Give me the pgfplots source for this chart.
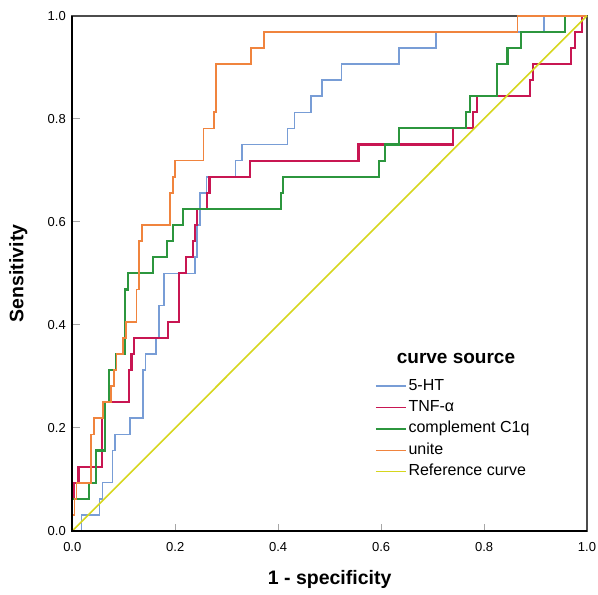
\documentclass[border=0pt]{standalone}
\usepackage{fontspec}
\setmainfont{Liberation Sans}
\usepackage{pgfplots}
\pgfplotsset{compat=1.18}

\definecolor{cblue}{RGB}{120,157,214}
\definecolor{cred}{RGB}{200,22,82}
\definecolor{cgreen}{RGB}{44,150,62}
\definecolor{corange}{RGB}{240,132,62}
\definecolor{cyellow}{RGB}{214,214,30}

\begin{document}
\begin{tikzpicture}
\path[use as bounding box] (-72.3pt,-64pt) rectangle (525.7pt,531pt);
\begin{axis}[
    at={(0,0)}, anchor=south west,
    width=514.7pt, height=515.3pt, scale only axis,
    xmin=0, xmax=1, ymin=0, ymax=1,
    clip=false,
    xtick={0,0.2,0.4,0.6,0.8,1},
    ytick={0,0.2,0.4,0.6,0.8,1},
    tick pos=left,
    tick align=inside,
    major tick length=7.5pt,
    every tick/.style={black!35, line width=1pt},
    axis line style={black!70, line width=2pt},
    ticklabel style={font=\fontsize{13}{15}\selectfont},
    xticklabel style={yshift=-8pt},
    yticklabel style={xshift=-3pt},
    /pgf/number format/fixed,
    /pgf/number format/fixed zerofill,
    /pgf/number format/precision=1,
    /pgf/number format/assume math mode=true,
    xlabel={1 - specificity},
    ylabel={Sensitivity},
    xlabel style={font=\fontsize{19.5}{22}\selectfont\bfseries,
        at={(axis description cs:0.5,-0.095)}, anchor=center},
    ylabel style={font=\fontsize{19.5}{22}\selectfont\bfseries,
        at={(axis description cs:-0.105,0.5)}, anchor=center},
    legend style={at={(axis description cs:0.588,0.30)}, anchor=north west,
        draw=none, fill=none, inner sep=0pt, row sep=2.4pt,
        font=\fontsize{16}{18}\selectfont,
        nodes={inner sep=2pt, text height=11.5pt, text depth=3.5pt}},
    legend cell align=left,
    legend image code/.code={\draw[#1, line width=1.4pt] (0pt,0pt) -- (30pt,0pt);},
]

% 5-HT
\addplot[cblue, line width=1.6pt] coordinates {
(0,0) (0.018,0) (0.018,0.03125) (0.0525,0.03125) (0.0525,0.0625)
(0.059,0.0625) (0.059,0.09375) (0.078,0.09375) (0.078,0.15625)
(0.083,0.15625) (0.083,0.1875) (0.112,0.1875) (0.112,0.21875)
(0.137,0.21875) (0.137,0.3125) (0.142,0.3125) (0.142,0.34375)
(0.163,0.34375) (0.163,0.375) (0.168,0.375) (0.168,0.4375)
(0.178,0.4375) (0.178,0.5) (0.238,0.5) (0.238,0.53125)
(0.242,0.53125) (0.242,0.59375) (0.248,0.59375) (0.248,0.65625)
(0.261,0.65625) (0.261,0.6875) (0.317,0.6875) (0.317,0.71875)
(0.330,0.71875) (0.330,0.75) (0.418,0.75) (0.418,0.78125)
(0.432,0.78125) (0.432,0.8125) (0.464,0.8125) (0.464,0.84375)
(0.485,0.84375) (0.485,0.875) (0.523,0.875) (0.523,0.90625)
(0.635,0.90625) (0.635,0.9375) (0.707,0.9375) (0.707,0.96875)
(0.917,0.96875) (0.917,1) (1,1)
};
\addlegendentry{5-HT}

% TNF-alpha
\addplot[cred, line width=2.1pt] coordinates {
(0,0) (0,0.0625) (0.004,0.0625) (0.004,0.09375) (0.012,0.09375)
(0.012,0.125) (0.058,0.125) (0.058,0.21875) (0.063,0.21875)
(0.063,0.25) (0.111,0.25) (0.111,0.3125) (0.115,0.3125)
(0.115,0.34375) (0.12,0.34375) (0.12,0.375) (0.186,0.375)
(0.186,0.40625) (0.207,0.40625) (0.207,0.5) (0.221,0.5)
(0.221,0.53125) (0.235,0.53125) (0.235,0.5625) (0.2385,0.5625)
(0.2385,0.59375) (0.2418,0.59375) (0.2418,0.625) (0.2613,0.625)
(0.2613,0.65625) (0.2665,0.65625) (0.2665,0.6875) (0.3455,0.6875)
(0.3455,0.71875) (0.556,0.71875) (0.556,0.75) (0.7393,0.75)
(0.7393,0.78125) (0.778,0.78125) (0.778,0.8125) (0.786,0.8125)
(0.786,0.84375) (0.8896,0.84375) (0.8896,0.875) (0.895,0.875)
(0.895,0.90625) (0.9687,0.90625) (0.9687,0.9375) (0.977,0.9375)
(0.977,0.96875) (0.99,0.96875) (0.99,1) (1,1)
};
\addlegendentry{TNF-α}

% complement C1q
\addplot[cgreen, line width=2.1pt] coordinates {
(0,0) (0,0.0625) (0.0318,0.0625) (0.0318,0.09375) (0.0467,0.09375)
(0.0467,0.15625) (0.063,0.15625) (0.063,0.25) (0.0707,0.25)
(0.0707,0.3125) (0.0856,0.3125) (0.0856,0.34375) (0.103,0.34375)
(0.103,0.46875) (0.108,0.46875) (0.108,0.5) (0.156,0.5)
(0.156,0.53125) (0.1834,0.53125) (0.1834,0.5625) (0.1963,0.5625)
(0.1963,0.59375) (0.2158,0.59375) (0.2158,0.625) (0.4056,0.625)
(0.4056,0.65625) (0.41,0.65625) (0.41,0.6875) (0.5966,0.6875)
(0.5966,0.71875) (0.6076,0.71875) (0.6076,0.75) (0.6347,0.75)
(0.6347,0.78125) (0.765,0.78125) (0.765,0.8125) (0.772,0.8125)
(0.772,0.84375) (0.825,0.84375) (0.825,0.90625) (0.8456,0.90625)
(0.8456,0.9375) (0.8715,0.9375) (0.8715,0.96875) (0.9564,0.96875)
(0.9564,1) (1,1)
};
\addlegendentry{complement C1q}

% unite
\addplot[corange, line width=1.7pt] coordinates {
(0,0) (0,0.03125) (0.004,0.03125) (0.004,0.0625) (0.008,0.0625)
(0.008,0.09375) (0.037,0.09375) (0.037,0.1875) (0.042,0.1875)
(0.042,0.21875) (0.060,0.21875) (0.060,0.25) (0.075,0.25)
(0.075,0.28125) (0.081,0.28125) (0.081,0.3125) (0.0856,0.3125)
(0.0856,0.34375) (0.0985,0.34375) (0.0985,0.375) (0.105,0.375)
(0.105,0.40625) (0.1245,0.40625) (0.1245,0.46875) (0.129,0.46875)
(0.129,0.5625) (0.1348,0.5625) (0.1348,0.59375) (0.19,0.59375)
(0.19,0.65625) (0.195,0.65625) (0.195,0.6875) (0.1996,0.6875)
(0.1996,0.71875) (0.2547,0.71875) (0.2547,0.78125) (0.2754,0.78125)
(0.2754,0.8125) (0.2793,0.8125) (0.2793,0.90625) (0.3467,0.90625)
(0.3467,0.9375) (0.3726,0.9375) (0.3726,0.96875) (0.865,0.96875)
(0.865,1) (1,1)
};
\addlegendentry{unite}

% reference line
\addplot[cyellow, line width=1.6pt] coordinates {(0,0) (1,1)};
\addlegendentry{Reference curve}

\draw[black, line width=2.2pt] (rel axis cs:0,1) -- (rel axis cs:0,0) -- (rel axis cs:1,0);
\node[font=\fontsize{19}{22}\selectfont\bfseries] at (axis description cs:0.7455,0.3357) {curve source};
\end{axis}
\end{tikzpicture}
\end{document}
